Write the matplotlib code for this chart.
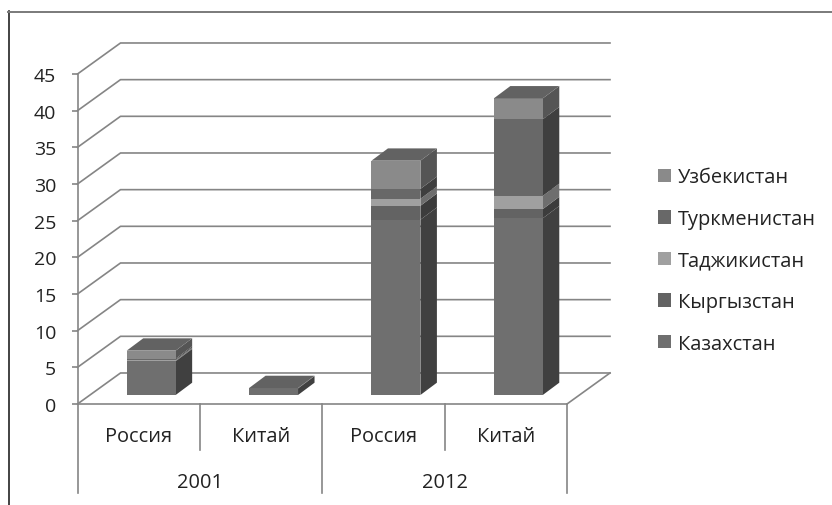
import matplotlib
matplotlib.use('Agg')
import matplotlib.pyplot as plt
import numpy as np
from matplotlib.lines import Line2D
from matplotlib.patches import Patch, Polygon

plt.rcParams['font.family'] = ['Open Sans', 'DejaVu Sans']

# values
categories = ['Россия', 'Китай', 'Россия', 'Китай']
years = ['2001', '2012']
countries = ['Казахстан', 'Кыргызстан', 'Таджикистан', 'Туркменистан', 'Узбекистан']
kazakhstan = [4.6, 0.9, 23.9, 24.1]
kyrgyzstan = [0.05, 0.0, 1.9, 1.25]
tajikistan = [0.15, 0.0, 0.95, 1.8]
turkmenistan = [0.15, 0.0, 1.35, 10.45]
uzbekistan = [1.1, 0.05, 3.85, 2.85]
series = [kazakhstan, kyrgyzstan, tajikistan, turkmenistan, uzbekistan]

front_colors = ['#6f6f6f', '#636363', '#a0a0a0', '#686868', '#8a8a8a']
side_colors = ['#404040', '#3c3c3c', '#6e6e6e', '#3f3f3f', '#555555']
top_color = '#626262'
line_color = '#858585'
text_color = '#222222'
yticks = np.arange(0, 50, 5)

W, H = 832, 506
fig = plt.figure(figsize=(W / 100, H / 100), dpi=100)
ax = fig.add_axes([77.5 / W, 1 - 405 / H, 489.5 / W, 330 / H])
ax.set_xlim(0, 4)
ax.set_ylim(0, 45)

# depth of the fake 3d box, in axis units
wall_dx, wall_dy = 43 / 122.4, 31 / 7.33
bar_dx, bar_dy = 12.5 / 122.4, 9 / 7.33
bar_depth_x, bar_depth_y = 16.5 / 122.4, 12.3 / 7.33
bar_w = 0.4


def poly(pts, color, z):
    ax.add_patch(Polygon(pts, closed=True, fc=color, ec='none', zorder=z, clip_on=False))


# walls and floor
for v in yticks:
    ax.plot([0, wall_dx, 4 + wall_dx], [v, v + wall_dy, v + wall_dy],
            color=line_color, lw=1.2, clip_on=False, zorder=1)
ax.plot([4, 4 + wall_dx], [0, wall_dy], color=line_color, lw=1.2, clip_on=False, zorder=1)

# stacked bars
for i in range(len(categories)):
    x0 = i + 0.5 - bar_w / 2 + bar_dx
    x1 = x0 + bar_w
    bottom = bar_dy
    for vals, fc, sc in zip(series, front_colors, side_colors):
        top = bottom + vals[i]
        if vals[i] > 0:
            poly([(x1, bottom), (x1 + bar_depth_x, bottom + bar_depth_y),
                  (x1 + bar_depth_x, top + bar_depth_y), (x1, top)], sc, 3)
            ax.bar(x0, vals[i], width=bar_w, bottom=bottom, align='edge', color=fc, zorder=4)
        bottom = top
    poly([(x0, bottom), (x1, bottom), (x1 + bar_depth_x, bottom + bar_depth_y),
          (x0 + bar_depth_x, bottom + bar_depth_y)], top_color, 4)

# axes
for s in ['top', 'right']:
    ax.spines[s].set_visible(False)
for s in ['left', 'bottom']:
    ax.spines[s].set_color(line_color)
    ax.spines[s].set_linewidth(1.2)
    ax.spines[s].set_zorder(2)
ax.set_yticks(yticks)
ax.tick_params(axis='y', length=4.3, width=1.2, color=line_color, labelsize=14, pad=11, labelcolor=text_color)
ax.set_xticks(np.arange(len(categories)) + 0.5, categories)
ax.tick_params(axis='x', length=0, labelsize=14.4, pad=23, labelcolor=text_color)
plt.setp(ax.get_xticklabels(), va='center')

# category and year separators under the axis
sep = ax.get_xaxis_transform()
for x, low in zip([0, 1, 2, 3, 4], [-0.27, -0.139, -0.27, -0.139, -0.27]):
    ax.plot([x, x], [0, low], transform=sep, color=line_color, lw=1.2, clip_on=False)
for k, year in enumerate(years):
    ax.text(2 * k + 1, -0.235, year, transform=sep, ha='center', va='center',
            fontsize=14.4, color=text_color)

handles = [Patch(fc=c, ec='none') for c in front_colors]
leg = ax.legend(handles[::-1], countries[::-1], loc='center left',
                bbox_to_anchor=(658 / W, 1 - 261.5 / H), bbox_transform=fig.transFigure,
                frameon=False, fontsize=14.4, handlelength=0.65, handleheight=0.65,
                handletextpad=0.36, labelspacing=1.08, borderpad=0, borderaxespad=0)
for t in leg.get_texts():
    t.set_color(text_color)

# outer chart border, only top and left survive in the crop
fig.add_artist(Line2D([8.5 / W, 8.5 / W], [0, 1 - 12 / H], color='#222222', lw=1.2))
fig.add_artist(Line2D([8 / W, 1], [1 - 12.5 / H, 1 - 12.5 / H], color='#7a7a7a', lw=1.4))

fig.savefig('out.png', dpi=100)
